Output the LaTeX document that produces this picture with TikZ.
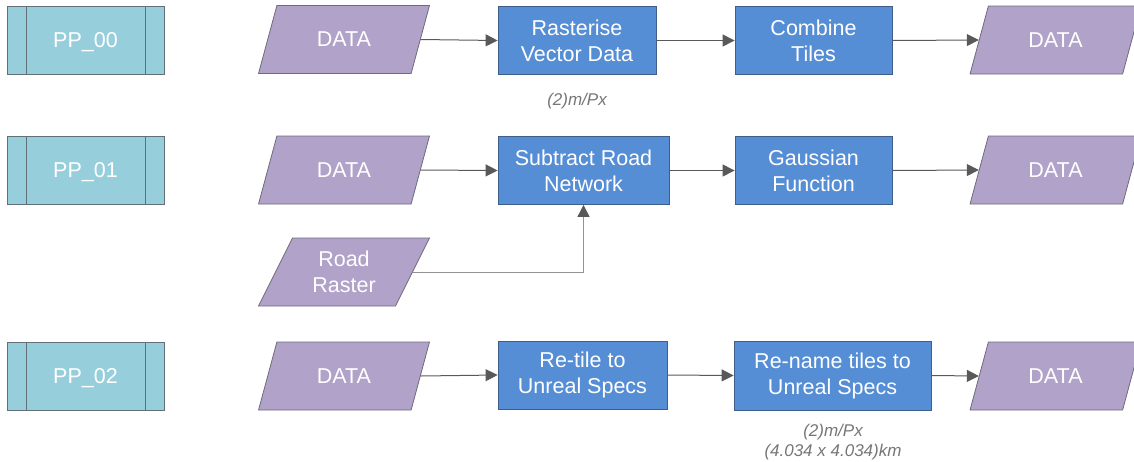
\documentclass[tikz,border=0pt]{standalone}
\usepackage{fontspec}
\setmainfont{Liberation Sans}
\usepackage{tikz}
\usetikzlibrary{shapes.geometric,arrows.meta,calc}

\definecolor{ppfill}{RGB}{150,206,220}
\definecolor{ppedge}{RGB}{96,112,118}
\definecolor{datafill}{RGB}{176,162,200}
\definecolor{dataedge}{RGB}{112,106,124}
\definecolor{procfill}{RGB}{85,142,213}
\definecolor{procedge}{RGB}{64,94,138}
\definecolor{linegray}{RGB}{89,89,89}
\definecolor{notegray}{RGB}{118,118,118}

\tikzset{
  boxtext/.style={text=white, font=\fontsize{21.5}{26}\selectfont, align=center, inner sep=0pt},
  ppbox/.style={boxtext, text depth=0pt, draw=ppedge, fill=ppfill, line width=0.8pt,
    minimum width=157pt, minimum height=68pt,
    path picture={
      \draw[ppedge, line width=0.8pt] ([xshift=19pt]path picture bounding box.north west) -- ([xshift=19pt]path picture bounding box.south west);
      \draw[ppedge, line width=0.8pt] ([xshift=-19pt]path picture bounding box.north east) -- ([xshift=-19pt]path picture bounding box.south east);
    }},
  databox/.style={boxtext, draw=dataedge, fill=datafill, line width=0.8pt,
    trapezium, trapezium left angle=63.4, trapezium right angle=116.6,
    trapezium stretches=true, minimum width=171pt, minimum height=68pt},
  procbox/.style={boxtext, draw=procedge, fill=procfill, line width=0.8pt, minimum height=68pt},
  flow/.style={linegray, line width=1pt, -{Triangle[length=12pt,width=12pt,color=linegray]}},
  note/.style={text=notegray, font=\fontsize{17}{20}\selectfont\itshape, align=center}
}

\begin{document}
\begin{tikzpicture}[x=1pt, y=-1pt]

\useasboundingbox (0,0) rectangle (1134,461);

% row PP_00
\node[ppbox] (pp0) at (85.5, 40) {PP\_00};
\node[databox] (in0) at (344, 39.5) {DATA};
\node[procbox, minimum width=158pt] (rast) at (577, 40.5) {Rasterise\\Vector Data};
\node[procbox, minimum width=157pt] (comb) at (813.5, 40.5) {Combine\\Tiles};
\node[databox] (out0) at (1055.5, 40) {DATA};
\node[note] (note0) at (577, 101) {(2)m/Px};

\draw[flow] (in0.east) -- (rast.west);
\draw[flow] (rast.east) -- (comb.west);
\draw[flow] (comb.east) -- (out0.west);

% row PP_01
\node[ppbox] (pp1) at (85.5, 170) {PP\_01};
\node[databox] (in1) at (344, 170) {DATA};
\node[procbox, minimum width=171pt] (sub) at (583.5, 170.5) {Subtract Road\\Network};
\node[procbox, minimum width=157pt] (gauss) at (813.5, 170.5) {Gaussian\\Function};
\node[databox] (out1) at (1055.5, 170) {DATA};
\node[databox] (road) at (344, 272) {Road\\Raster};

\draw[flow] (in1.east) -- (sub.west);
\draw[flow] (sub.east) -- (gauss.west);
\draw[flow] (gauss.east) -- (out1.west);
\draw[flow, draw=gray!85] (road.east) -| (sub.south);

% row PP_02
\node[ppbox] (pp2) at (85.5, 376) {PP\_02};
\node[databox] (in2) at (344, 376) {DATA};
\node[procbox, minimum width=169pt] (retile) at (582.5, 375) {Re-tile to\\Unreal Specs};
\node[procbox, minimum width=197pt, minimum height=69pt] (rename) at (832.5, 375.5) {Re-name tiles to\\Unreal Specs};
\node[databox] (out2) at (1055.5, 376) {DATA};
\node[note] (note2) at (833, 442) {(2)m/Px\\(4.034 x 4.034)km};

\draw[flow] (in2.east) -- (retile.west);
\draw[flow] (retile.east) -- (rename.west);
\draw[flow] (rename.east) -- (out2.west);

\end{tikzpicture}
\end{document}
